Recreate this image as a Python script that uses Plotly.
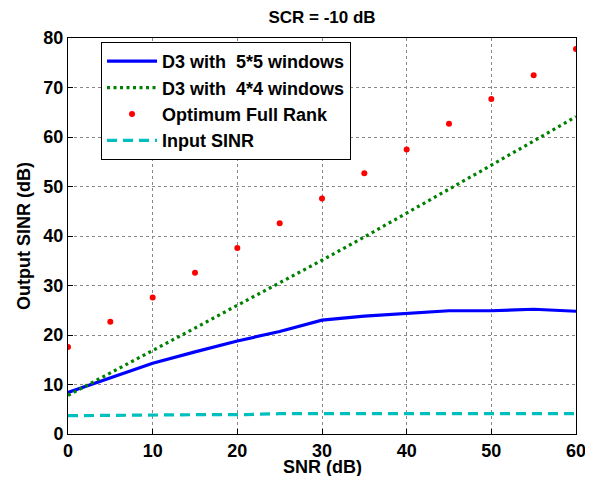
import plotly.graph_objects as go

snr = [0, 5, 10, 15, 20, 25, 30, 35, 40, 45, 50, 55, 60]
d3_5x5 = [8.4, 11.4, 14.3, 16.6, 18.8, 20.7, 23.0, 23.8, 24.4, 24.9, 24.9, 25.2, 24.8]
d3_4x4 = [7.8, 12.3, 16.8, 21.4, 26.0, 30.5, 35.1, 39.8, 44.6, 49.4, 54.3, 59.2, 64.1]
optimum = [17.6, 22.7, 27.6, 32.6, 37.6, 42.6, 47.6, 52.7, 57.5, 62.7, 67.7, 72.5, 77.8]
input_sinr = [3.7, 3.8, 3.9, 3.9, 3.9, 4.1, 4.1, 4.1, 4.1, 4.1, 4.1, 4.1, 4.1]

x_ticks = [0, 10, 20, 30, 40, 50, 60]
y_ticks = [0, 10, 20, 30, 40, 50, 60, 70, 80]

FONT = "Liberation Sans, Arial, sans-serif"
FS = 18

# The page body has an 8px margin, so the figure is sized/positioned to compensate.
W, H = 585, 469
L, R, T, B = 60, 16.5, 30, 43
PLOT_H = H - T - B

fig = go.Figure()
fig.add_trace(go.Scatter(x=snr, y=d3_5x5, mode="lines", name="D3 with&nbsp; 5*5 windows",
                         legendgroup="a", line=dict(color="#0000ff", width=3.2)))
fig.add_trace(go.Scatter(x=snr, y=d3_4x4, mode="lines", name="D3 with&nbsp; 4*4 windows",
                         legendgroup="b", line=dict(color="#008000", width=3.2, dash="3px,3.5px")))
fig.add_trace(go.Scatter(x=snr, y=optimum, mode="markers", name="Optimum Full Rank",
                         legendgroup="c", marker=dict(color="#ff0000", size=6)))
fig.add_trace(go.Scatter(x=snr, y=input_sinr, mode="lines", name="Input SINR",
                         legendgroup="d", line=dict(color="#00bfbf", width=3.2, dash="10px,6px")))

axis_common = dict(
    showline=True, linecolor="black", linewidth=1, mirror=True,
    ticks="inside", ticklen=5, tickcolor="black",
    showgrid=True, gridcolor="#888", griddash="dot", gridwidth=1,
    zeroline=False, automargin=False,
    tickfont=dict(family=FONT, size=FS, color="black", weight="bold"),
)

fig.update_xaxes(range=[0, 60], tickvals=x_ticks, **axis_common)
fig.update_yaxes(range=[0, 80], tickvals=y_ticks,
                 title=dict(text="<b>Output SINR (dB)</b>", font=dict(family=FONT, size=FS, color="black"), standoff=8),
                 **axis_common)

fig.add_annotation(text="<b>SNR (dB)</b>", xref="paper", yref="paper",
                   x=0.5, y=-(32.5 / PLOT_H), xanchor="center", yanchor="middle",
                   height=18, borderpad=0, valign="middle",
                   showarrow=False, font=dict(family=FONT, size=FS, color="black"))

fig.update_layout(
    width=W, height=H,
    margin=dict(l=L, r=R, t=T, b=B),
    paper_bgcolor="white", plot_bgcolor="white",
    title=dict(text="<b>SCR = -10 dB</b>", x=314 / W, xanchor="center",
               y=1 - 9.5 / H, yanchor="middle", automargin=False,
               font=dict(family=FONT, size=17, color="black")),
    legend=dict(x=0.065, y=0.99, xanchor="left", yanchor="top",
                bgcolor="white", bordercolor="black", borderwidth=1,
                font=dict(family=FONT, size=FS, color="black", weight="bold"),
                tracegroupgap=0, itemwidth=50),
    showlegend=True,
)

fig.write_html("out.html")
